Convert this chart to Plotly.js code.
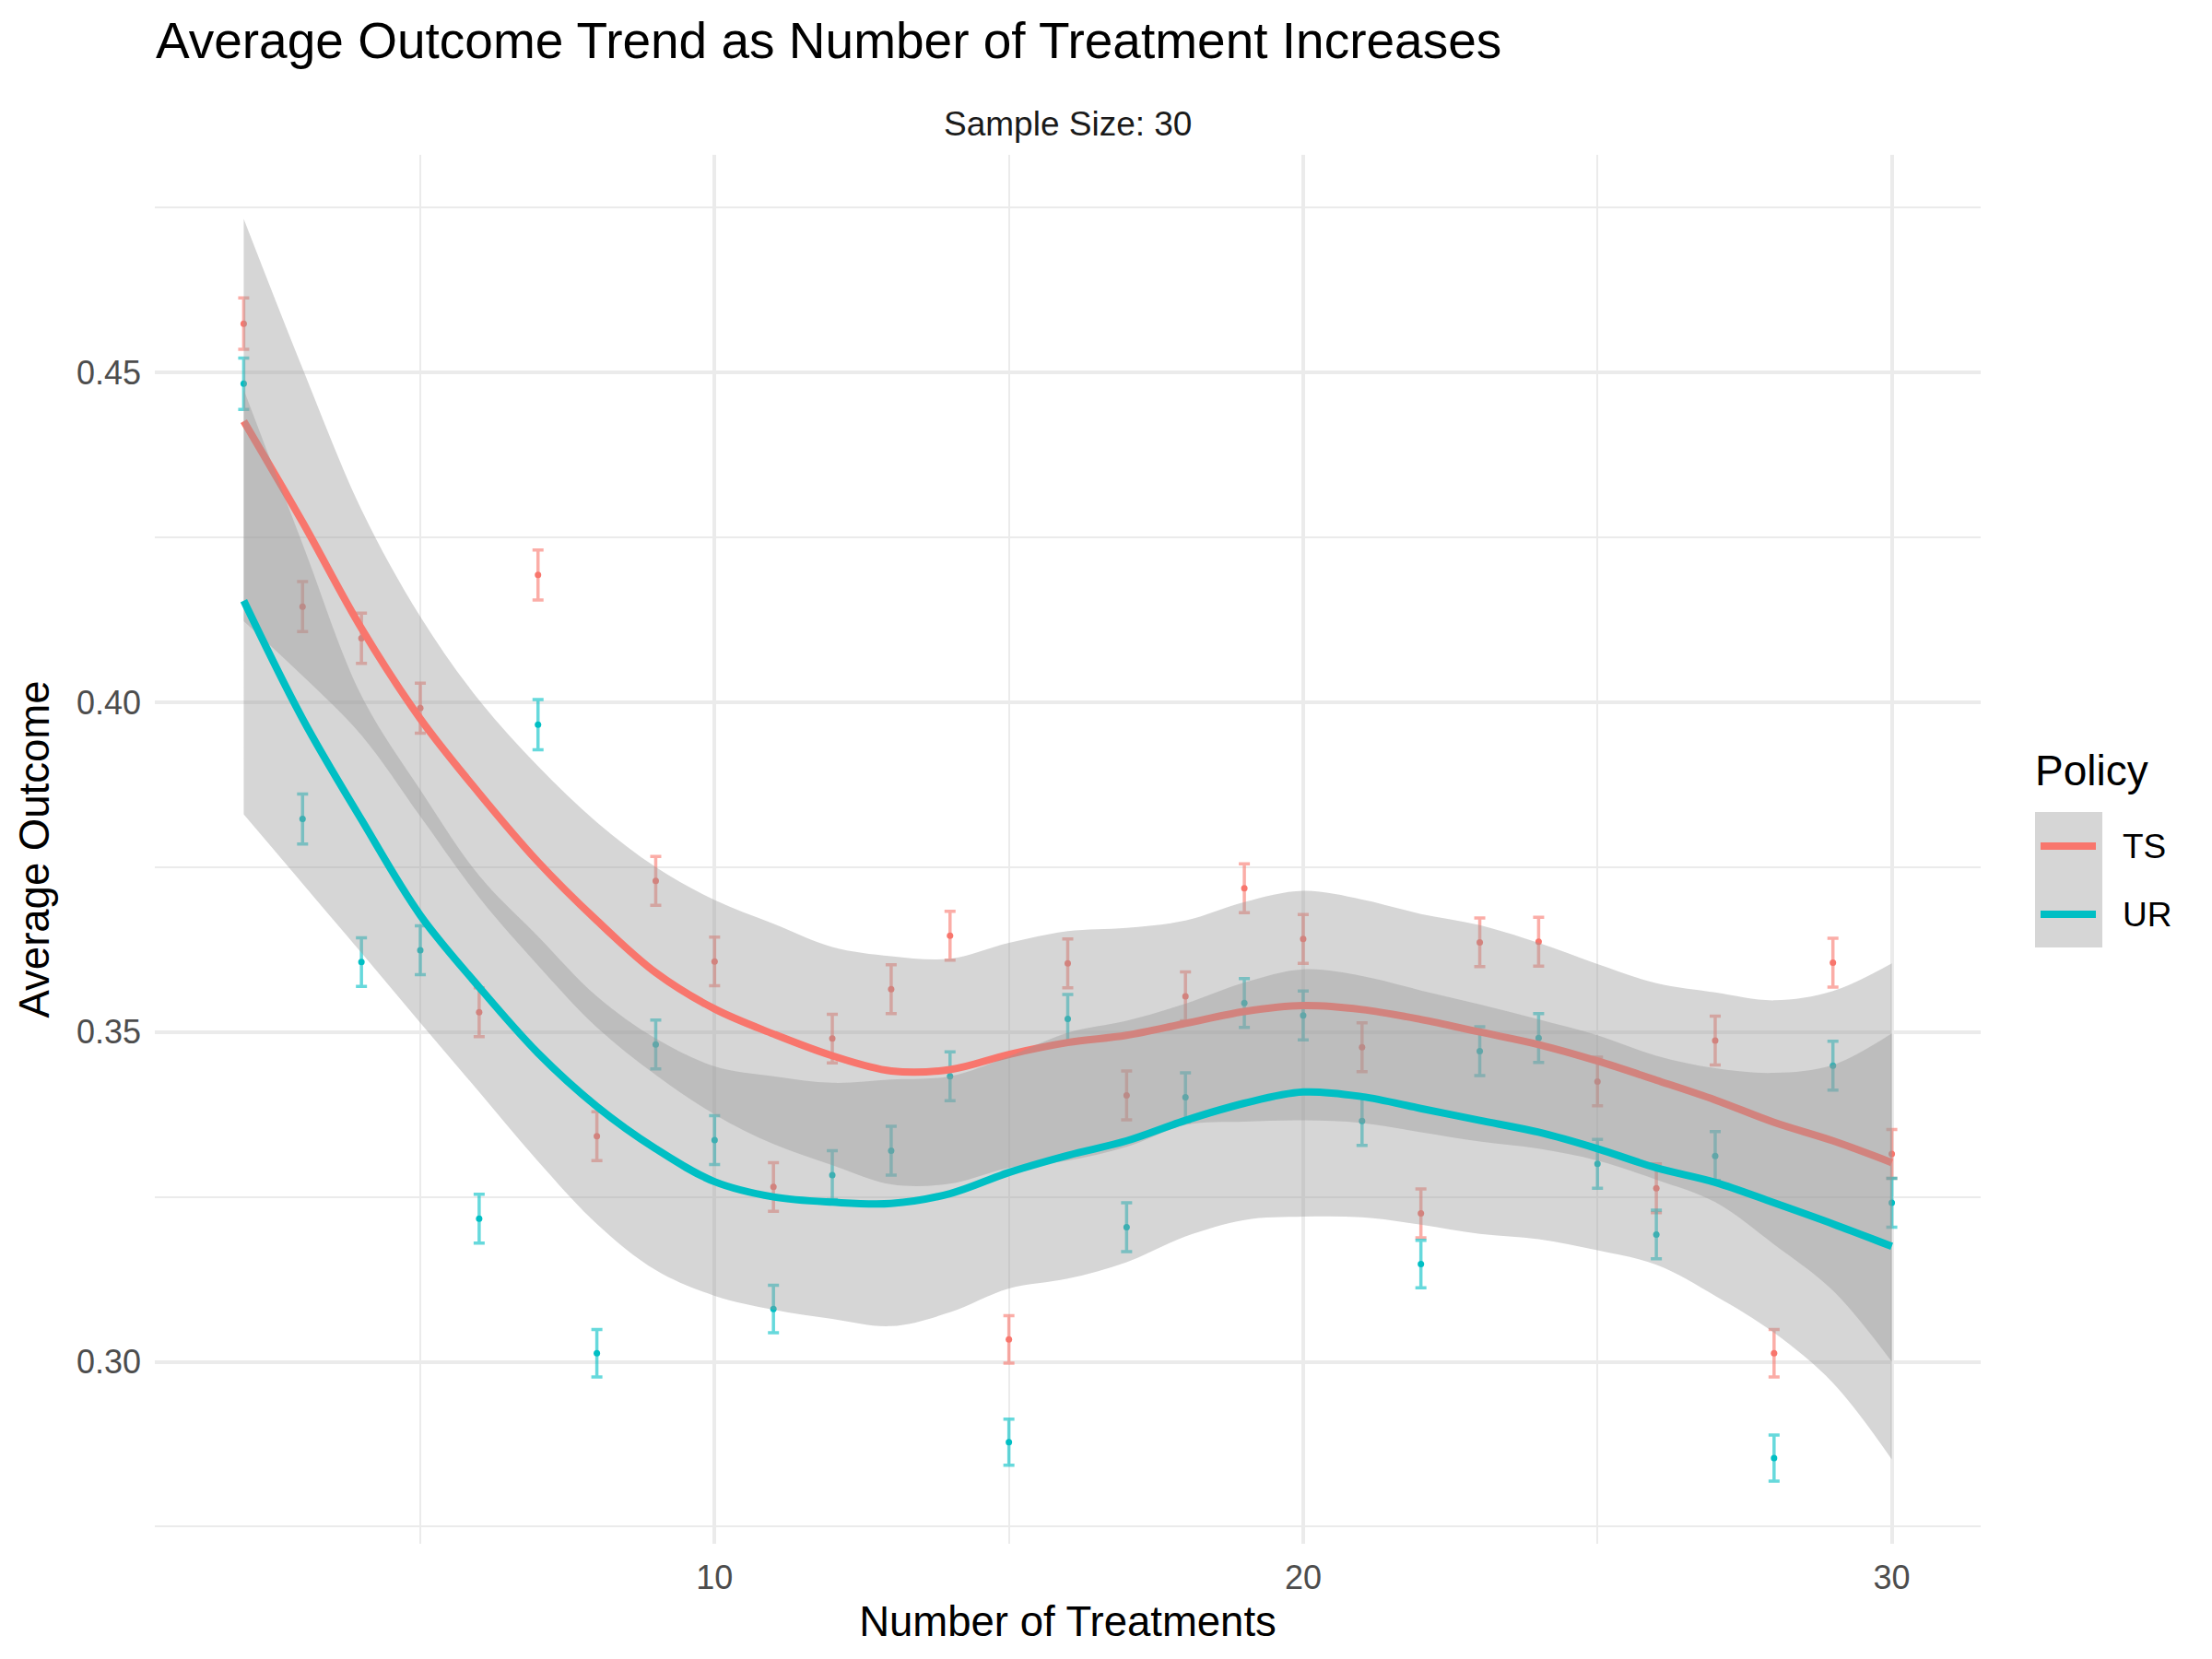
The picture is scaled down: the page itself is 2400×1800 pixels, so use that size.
<!DOCTYPE html>
<html>
<head>
<meta charset="utf-8">
<script src="https://cdn.plot.ly/plotly-3.0.1.min.js"></script>
<style>
  html, body { margin: 0; padding: 0; background: #ffffff; }
  #chart { width: 2400px; height: 1800px; }
</style>
</head>
<body>
<div id="chart"></div>
<script>
// ---------------- data ----------------
const treatments = [2,3,4,5,6,7,8,9,10,11,12,13,14,15,16,17,18,19,20,21,22,23,24,25,26,27,28,29,30];

const tsMean = [0.4574,0.4145,0.4097,0.3991,0.3530,0.4193,0.3342,0.3729,0.3607,0.3265,0.3490,0.3565,0.3646,0.3034,0.3604,0.3404,0.3554,0.3718,0.3641,0.3477,0.3225,0.3636,0.3637,0.3425,0.3263,0.3487,0.3013,0.3605,0.3315];
const tsErr  = [0.0039,0.0038,0.0038,0.0038,0.0037,0.0038,0.0037,0.0037,0.0037,0.0037,0.0037,0.0037,0.0037,0.0036,0.0037,0.0037,0.0037,0.0037,0.0037,0.0037,0.0037,0.0037,0.0037,0.0037,0.0037,0.0037,0.0036,0.0037,0.0037];

const urMean = [0.4483,0.3823,0.3606,0.3624,0.3217,0.3966,0.3013,0.3481,0.3336,0.3080,0.3283,0.3320,0.3433,0.2878,0.3520,0.3204,0.3401,0.3544,0.3525,0.3365,0.3148,0.3471,0.3491,0.3300,0.3193,0.3312,0.2854,0.3449,0.3241];
const urErr  = [0.0039,0.0038,0.0037,0.0037,0.0037,0.0038,0.0036,0.0037,0.0037,0.0036,0.0037,0.0037,0.0037,0.0035,0.0037,0.0037,0.0037,0.0037,0.0037,0.0037,0.0036,0.0037,0.0037,0.0037,0.0037,0.0037,0.0035,0.0037,0.0037];

// smoothed trend and its confidence band
const tsFit  = [0.4426,0.4273,0.4112,0.3975,0.3862,0.3758,0.3669,0.3590,0.3535,0.3497,0.3464,0.3441,0.3443,0.3466,0.3484,0.3495,0.3513,0.3531,0.3540,0.3534,0.3519,0.3500,0.3481,0.3456,0.3427,0.3397,0.3363,0.3335,0.3302];
const tsLow  = [0.4123,0.4040,0.3950,0.3827,0.3704,0.3601,0.3507,0.3435,0.3375,0.3330,0.3298,0.3269,0.3270,0.3294,0.3305,0.3326,0.3359,0.3364,0.3366,0.3362,0.3348,0.3334,0.3323,0.3305,0.3276,0.3242,0.3178,0.3108,0.3000];
const tsUp   = [0.4733,0.4506,0.4292,0.4130,0.4003,0.3903,0.3818,0.3750,0.3700,0.3664,0.3629,0.3615,0.3611,0.3635,0.3653,0.3658,0.3669,0.3697,0.3714,0.3701,0.3679,0.3662,0.3635,0.3603,0.3574,0.3560,0.3548,0.3562,0.3604];

const urFit  = [0.4154,0.3975,0.3822,0.3677,0.3568,0.3468,0.3387,0.3323,0.3273,0.3250,0.3242,0.3240,0.3255,0.3287,0.3313,0.3335,0.3366,0.3392,0.3409,0.3402,0.3384,0.3366,0.3348,0.3323,0.3294,0.3272,0.3241,0.3209,0.3175];
const urLow  = [0.3830,0.3725,0.3620,0.3514,0.3409,0.3304,0.3209,0.3139,0.3100,0.3079,0.3065,0.3054,0.3075,0.3111,0.3126,0.3151,0.3190,0.3215,0.3220,0.3219,0.3208,0.3194,0.3186,0.3169,0.3147,0.3100,0.3044,0.2968,0.2852];
const urUp   = [0.4474,0.4240,0.4010,0.3867,0.3737,0.3645,0.3554,0.3490,0.3448,0.3433,0.3423,0.3428,0.3433,0.3463,0.3499,0.3517,0.3543,0.3575,0.3595,0.3585,0.3563,0.3542,0.3519,0.3495,0.3464,0.3445,0.3438,0.3450,0.3498];

const policies = ['TS', 'UR'];
const chartTitle = 'Average Outcome Trend as Number of Treatment Increases';
const panelLabel = 'Sample Size: 30';
const xTitle = 'Number of Treatments';
const yTitle = 'Average Outcome';
const legendTitle = 'Policy';

// ---------------- styling ----------------
const FONT = 'Liberation Sans, Arial, Helvetica, sans-serif';
const RED = '#F8766D', CYAN = '#00BFC4';
const RED_A = 'rgba(248,118,109,0.6)', CYAN_A = 'rgba(0,191,196,0.6)';
const BAND = 'rgba(153,153,153,0.4)';
const GRID = '#EBEBEB';

// plot-area pixel box (for placing the hand-made legend)
const L = 168, R = 2149, T = 168, B = 1675;
const xp = px => (px - L) / (R - L);
const yp = py => (B - py) / (B - T);

function pointTrace(y, err, col, colA, name) {
  return {
    x: treatments, y: y, type: 'scatter', mode: 'markers', name: name,
    marker: { color: col, size: 7, line: { width: 0 } },
    error_y: { type: 'data', array: err, visible: true, color: colA, thickness: 3.5, width: 6 },
    showlegend: false, hoverinfo: 'x+y'
  };
}
function bandLow(y) {
  return { x: treatments, y: y, type: 'scatter', mode: 'lines',
    line: { width: 0, shape: 'spline', smoothing: 1 }, showlegend: false, hoverinfo: 'skip' };
}
function bandUp(y) {
  return { x: treatments, y: y, type: 'scatter', mode: 'lines', fill: 'tonexty', fillcolor: BAND,
    line: { width: 0, shape: 'spline', smoothing: 1 }, showlegend: false, hoverinfo: 'skip' };
}
function fitTrace(y, col, name) {
  return { x: treatments, y: y, type: 'scatter', mode: 'lines', name: name,
    line: { color: col, width: 8, shape: 'spline', smoothing: 1 }, showlegend: false };
}

const data = [
  pointTrace(tsMean, tsErr, RED, RED_A, 'TS'),
  pointTrace(urMean, urErr, CYAN, CYAN_A, 'UR'),
  bandLow(tsLow), bandUp(tsUp), fitTrace(tsFit, RED, 'TS'),
  bandLow(urLow), bandUp(urUp), fitTrace(urFit, CYAN, 'UR')
];

const shapes = [
  { type: 'rect', xref: 'paper', yref: 'paper', x0: xp(2208), x1: xp(2281), y0: yp(1028), y1: yp(881),
    fillcolor: '#D6D6D6', line: { width: 0 } },
  { type: 'line', xref: 'paper', yref: 'paper', x0: xp(2214), x1: xp(2274), y0: yp(918), y1: yp(918),
    line: { color: RED, width: 8 } },
  { type: 'line', xref: 'paper', yref: 'paper', x0: xp(2214), x1: xp(2274), y0: yp(992), y1: yp(992),
    line: { color: CYAN, width: 8 } }
];

const annotations = [
  { text: panelLabel, xref: 'paper', yref: 'paper', x: 0.5, y: yp(135), xanchor: 'center', yanchor: 'middle',
    showarrow: false, font: { family: FONT, size: 37, color: '#1A1A1A' } },
  { text: legendTitle, xref: 'paper', yref: 'paper', x: xp(2206), y: yp(836), xanchor: 'left', yanchor: 'middle',
    showarrow: false, font: { family: FONT, size: 46, color: '#000000' } },
  { text: policies[0], xref: 'paper', yref: 'paper', x: xp(2301), y: yp(918), xanchor: 'left', yanchor: 'middle',
    showarrow: false, font: { family: FONT, size: 37, color: '#000000' } },
  { text: policies[1], xref: 'paper', yref: 'paper', x: xp(2301), y: yp(992), xanchor: 'left', yanchor: 'middle',
    showarrow: false, font: { family: FONT, size: 37, color: '#000000' } }
];

const layout = {
  width: 2400, height: 1800,
  paper_bgcolor: '#FFFFFF', plot_bgcolor: '#FFFFFF',
  font: { family: FONT, color: '#000000' },
  margin: { l: L, r: 2400 - R, t: T, b: 1800 - B, pad: 0 },
  showlegend: false,
  title: { text: chartTitle, xref: 'container', yref: 'container', x: 169 / 2400, xanchor: 'left',
    y: 1 - 44 / 1800, yanchor: 'middle', font: { family: FONT, size: 55, color: '#000000' } },
  xaxis: {
    range: [0.49, 31.51], tick0: 0, dtick: 10, ticks: '', showline: false, zeroline: false,
    showgrid: true, gridcolor: GRID, gridwidth: 3.5,
    minor: { tick0: 0, dtick: 5, showgrid: true, gridcolor: GRID, gridwidth: 1.8, ticks: '' },
    tickfont: { family: FONT, size: 36, color: '#4D4D4D' }, ticklabelstandoff: 12,
    title: { text: xTitle, font: { family: FONT, size: 45.5, color: '#000000' }, standoff: 12 },
    automargin: false, fixedrange: true
  },
  yaxis: {
    range: [0.2724, 0.4830], tick0: 0, dtick: 0.05, tickformat: '.2f', ticks: '', showline: false, zeroline: false,
    showgrid: true, gridcolor: GRID, gridwidth: 3.5,
    minor: { tick0: 0, dtick: 0.025, showgrid: true, gridcolor: GRID, gridwidth: 1.8, ticks: '' },
    tickfont: { family: FONT, size: 36, color: '#4D4D4D' }, ticklabelstandoff: 14,
    title: { text: yTitle, font: { family: FONT, size: 45.5, color: '#000000' }, standoff: 14 },
    automargin: false, fixedrange: true
  },
  shapes: shapes,
  annotations: annotations
};

Plotly.newPlot('chart', data, layout, { displayModeBar: false, responsive: false });
</script>
</body>
</html>
